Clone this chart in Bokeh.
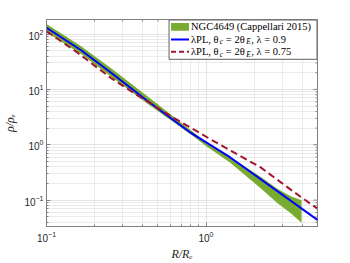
import math
from bokeh.plotting import figure
from bokeh.models import Range1d, FixedTicker
from bokeh.core.properties import value
from bokeh.embed import file_html
from bokeh.resources import INLINE

# ---------------- data ----------------
R_band = [0.1, 0.165, 0.254, 0.45, 0.8, 1.0, 1.42, 2.2, 2.8, 3.4, 3.97]
band_upper = [152, 60, 24, 6.8, 1.85, 1.12, 0.6, 0.265, 0.16, 0.118, 0.099]
band_lower = [108, 43.5, 17, 5.0, 1.55, 0.95, 0.475, 0.164, 0.089, 0.058, 0.039]

R_blue = [0.1, 0.165, 0.254, 0.42, 0.8, 1.42, 5.0]
rho_blue = [130, 51, 20, 6.5, 1.65, 0.59, 0.044]

R_red = [0.1, 0.155, 0.254, 0.355, 0.6, 1.07, 2.2, 3.5, 5.0]
rho_red = [112, 47, 16, 8.5, 3.3, 1.25, 0.39, 0.145, 0.07]

x_major = [0.1, 1.0]
x_minor = [0.2, 0.3, 0.4, 0.5, 0.6, 0.7, 0.8, 0.9, 2, 3, 4, 5]
y_major = [0.1, 1.0, 10.0, 100.0]
y_minor = [0.04, 0.05, 0.06, 0.07, 0.08, 0.09,
           0.2, 0.3, 0.4, 0.5, 0.6, 0.7, 0.8, 0.9,
           2, 3, 4, 5, 6, 7, 8, 9,
           20, 30, 40, 50, 60, 70, 80, 90]

legend_row1 = "NGC4649 (Cappellari 2015)"
legend_row2 = ["λPL, θ", "c", "= 2θ", "E", ", λ = 0.9"]
legend_row3 = ["λPL, θ", "c", "= 2θ", "E", ", λ = 0.75"]

XMIN, XMAX = 0.1, 5.0
YMIN, YMAX = 0.0334, 183.0

GREEN = "#77AC30"
BLUE = "#0000FF"
RED = "#A2142F"
AXC = "#808080"
TXT = "#262626"

p = figure(width=350, height=263, x_axis_type="log", y_axis_type="log",
           x_range=Range1d(XMIN, XMAX), y_range=Range1d(YMIN, YMAX),
           output_backend="svg", toolbar_location=None,
           min_border_left=45, min_border_right=33,
           min_border_top=19, min_border_bottom=36)
p.background_fill_color = "white"
p.border_fill_color = "white"
p.outline_line_color = AXC
p.outline_line_width = 1

xt = FixedTicker(ticks=x_major, minor_ticks=x_minor)
yt = FixedTicker(ticks=y_major, minor_ticks=y_minor)
p.xaxis[0].ticker = xt
p.xgrid[0].ticker = xt
p.yaxis[0].ticker = yt
p.ygrid[0].ticker = yt

for g in (p.xgrid[0], p.ygrid[0]):
    g.grid_line_color = "#e3e3e3"
    g.grid_line_width = 1
    g.minor_grid_line_color = "#d6d6d6"
    g.minor_grid_line_dash = "1 1"
    g.minor_grid_line_width = 1

for ax in (p.xaxis[0], p.yaxis[0]):
    ax.axis_line_color = AXC
    ax.major_tick_line_color = AXC
    ax.minor_tick_line_color = AXC
    ax.major_tick_in = 4
    ax.major_tick_out = 0
    ax.minor_tick_in = 2
    ax.minor_tick_out = 0
    ax.major_label_text_font = "Liberation Sans"
    ax.major_label_text_font_size = "10px"
    ax.major_label_text_color = TXT
    ax.major_label_standoff = 3
    ax.axis_label_text_font = "Liberation Serif"
    ax.axis_label_text_font_style = "italic"
    ax.axis_label_text_font_size = "12px"
    ax.axis_label_text_color = TXT
    ax.axis_label_standoff = 0
p.xaxis[0].axis_label = "R/Rₑ"
p.yaxis[0].axis_label = "ρ/ρₑ"
p.xaxis[0].major_label_standoff = 4
p.xaxis[0].axis_label_standoff = 2
p.yaxis[0].axis_label_standoff = 4

# ---------------- data marks ----------------
p.varea(x=R_band, y1=band_lower, y2=band_upper, fill_color=GREEN, fill_alpha=1.0)
p.line(R_blue, rho_blue, line_color=BLUE, line_width=2)
p.line(R_red, rho_red, line_color=RED, line_width=2, line_dash="7 4")

# ---------------- frame-pixel helpers (legend + box ticks) ----------------
FW, FH = 272.0, 208.0
lx0, lx1 = math.log10(XMIN), math.log10(XMAX)
ly0, ly1 = math.log10(YMIN), math.log10(YMAX)

def fx(px):
    return 10 ** (lx0 + (lx1 - lx0) * px / FW)

def fy(py):
    return 10 ** (ly1 - (ly1 - ly0) * py / FH)

# inward ticks on the top and right edges of the box
tick_kw = dict(line_color=AXC, line_width=1)
p.segment(x0=x_major, y0=[fy(0)] * len(x_major), x1=x_major,
          y1=[fy(4)] * len(x_major), **tick_kw)
p.segment(x0=x_minor, y0=[fy(0)] * len(x_minor), x1=x_minor,
          y1=[fy(2)] * len(x_minor), **tick_kw)
p.segment(x0=[fx(FW)] * len(y_major), y0=y_major, x1=[fx(FW - 4)] * len(y_major),
          y1=y_major, **tick_kw)
p.segment(x0=[fx(FW)] * len(y_minor), y0=y_minor, x1=[fx(FW - 2)] * len(y_minor),
          y1=y_minor, **tick_kw)

# legend
p.quad(left=[fx(123)], right=[fx(FW - 0.5)], top=[fy(0.5)], bottom=[fy(40)],
       fill_color="white", line_color="#5f5f5f", line_width=1)
p.quad(left=[fx(125)], right=[fx(143)], top=[fy(3.4)], bottom=[fy(11.4)],
       fill_color=GREEN, line_color=None)
p.line([fx(125), fx(143)], [fy(20), fy(20)], line_color=BLUE, line_width=2)
p.line([fx(125), fx(143)], [fy(32.4), fy(32.4)], line_color=RED, line_width=2,
       line_dash="5 3")

FS = "10.5px"
SUB = "7.5px"
p.text(x=[fx(145)], y=[fy(6.9)], text=[legend_row1],
       text_font=value("Liberation Serif"), text_font_size=FS,
       text_baseline="middle", text_align="left", text_color="black")

offsets = [0.0, 29.0, 35.0, 55.5, 60.5]   # piece start positions (px from text start)
for pieces, yc in ((legend_row2, 20.0), (legend_row3, 32.4)):
    for i, t in enumerate(pieces):
        is_sub = i in (1, 3)
        p.text(x=[fx(145 + offsets[i])], y=[fy(yc + (2.5 if is_sub else 0))], text=[t],
               text_font=value("Liberation Serif"),
               text_font_size=SUB if is_sub else FS,
               text_font_style="italic" if is_sub else "normal",
               text_baseline="middle", text_align="left", text_color="black")

open("out.html", "w").write(file_html(p, INLINE))
